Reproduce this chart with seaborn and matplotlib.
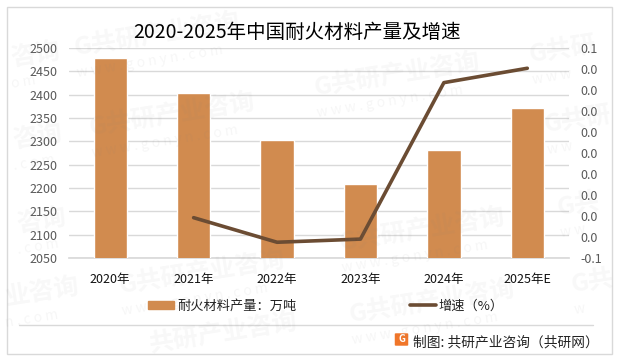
import matplotlib
matplotlib.use("Agg")
import matplotlib.pyplot as plt
from matplotlib.lines import Line2D
from matplotlib.patches import FancyBboxPatch, Patch, Rectangle
import numpy as np
import pandas as pd
import seaborn as sns

years = ["2020年", "2021年", "2022年", "2023年", "2024年", "2025年E"]
output = [2478, 2403, 2302, 2208, 2281, 2372]
growth = [np.nan, -0.0616, -0.085, -0.082, 0.067, 0.0807]
left_ticks = list(range(2050, 2501, 50))
right_ticks = [-0.1, -0.08, -0.06, -0.04, -0.02, 0.0, 0.02, 0.04, 0.06, 0.08, 0.1]
right_labels = ["-0.1", "0.0", "0.0", "0.0", "0.0", "0.0", "0.0", "0.0", "0.0", "0.0", "0.1"]

bar_color = "#d18b4f"
line_color = "#6b4c33"
W, H = 617, 361

sns.set_theme(style="white")
plt.rcParams["font.family"] = ["Noto Sans CJK SC", "DejaVu Sans"]
plt.rcParams["axes.unicode_minus"] = False

df = pd.DataFrame({"year": years, "output": output, "growth": growth})

fig = plt.figure(figsize=(W / 100, H / 100), dpi=100, facecolor="white")
ax = fig.add_axes([68.5 / W, 1 - 258 / H, (569 - 68.5) / W, 210 / H])
ax.patch.set_alpha(0)

sns.barplot(data=df, x="year", y="output", color=bar_color, width=0.4, saturation=1, ax=ax, zorder=3)
ax.set_ylim(2050, 2500)
ax.set_xlim(-0.5, 5.5)
ax.set_yticks(left_ticks)
ax.grid(axis="y", color="#d9d9d9", lw=1)
ax.set_axisbelow(True)
ax.set_xlabel("")
ax.set_ylabel("")
ax.tick_params(axis="y", length=0, pad=8, labelsize=9, labelcolor="#595959")
ax.tick_params(axis="x", length=0, pad=11, labelsize=9, labelcolor="#111111")
sns.despine(ax=ax, left=True, top=True, right=True)
ax.spines["bottom"].set_color("#d9d9d9")

ax2 = ax.twinx()
sns.lineplot(data=df.dropna(), x="year", y="growth", color=line_color, lw=2.6, ax=ax2, sort=False, errorbar=None)
ax2.set_ylim(-0.1, 0.1)
ax2.set_yticks(right_ticks)
ax2.set_yticklabels(right_labels)
ax2.set_ylabel("")
ax2.tick_params(axis="y", length=0, pad=8, labelsize=9, labelcolor="#595959")
sns.despine(ax=ax2, left=True, top=True, right=True, bottom=True)

# titles and footer
fig.text(297 / W, 1 - 32 / H, "2020-2025年中国耐火材料产量及增速", fontsize=14, color="black", ha="center", va="center")
fig.text(413 / W, 1 - 342 / H, "制图: 共研产业咨询\uff08共研网\uff09", fontsize=9.9, color="#222222", ha="left", va="center")

handles = [Patch(color=bar_color), Line2D([0], [0], color=line_color, lw=2.6)]
fig.legend(handles, ["耐火材料产量\uff1a万吨", "增速\uff08%\uff09"], ncol=2, loc="center",
           bbox_to_anchor=(326 / W, 1 - 306 / H), frameon=False, fontsize=9.5, labelcolor="#222222",
           handlelength=1.95, handleheight=0.55, handletextpad=0.25, columnspacing=8.6, borderpad=0)

# frame, footer rule, logo
fig.add_artist(Rectangle((6.5 / W, 1 - 354 / H), 605 / W, 347 / H, transform=fig.transFigure, fill=False, ec="#d9d9d9", lw=1))
fig.add_artist(Line2D([19 / W, 593 / W], [1 - 324.5 / H] * 2, color="#d9d9d9", lw=1))
fig.add_artist(FancyBboxPatch((396 / W, 1 - 345 / H), 11 / W, 11 / H, boxstyle="round,pad=0.002", transform=fig.transFigure, fc="#f0762a", ec="none"))
fig.text(401.5 / W, 1 - 339.5 / H, "G", fontsize=7, color="white", weight="bold", ha="center", va="center")

# watermark, only the part of each stamp that stays on the canvas
stamps = [("G共研产业咨询", 75, 55), ("G共研产业咨询", 90, 135), ("G共研产业咨询", 315, 95),
          ("G共研产业咨询", 120, 293), ("G共研产业咨询", 340, 250), ("G共研产业咨询", 350, 322),
          ("G共研", 530, 62), ("G共研", 545, 132), ("G共", 558, 215), ("G共", 572, 292),
          ("咨询", 12, 66), ("咨询", 14, 148), ("咨询", 18, 232), ("业咨询", 6, 305), ("共研产业咨询", 150, 352)]
www = [("w w w . g o n y n . c o m", 78, 77), ("w w w . g o n y n . c o m", 93, 157),
       ("w w w . g o n y n . c o m", 318, 117), ("w w w . g o n y n . c o m", 123, 315),
       ("w w w . g o n y n . c o m", 343, 272), ("w w w . g o n y n . c o m", 353, 344),
       ("w w w", 533, 84), ("w w", 548, 154), ("w w", 561, 237), ("w", 575, 314),
       ("o m", 12, 88), (". c o m", 14, 170), (". c o m", 18, 254), ("n . c o m", 6, 327)]
for text, wx, wy in stamps:
    fig.text(wx / W, 1 - wy / H, text, fontsize=18, weight="bold", color="#808080", alpha=0.06,
             rotation=9, rotation_mode="anchor", ha="left", va="baseline", zorder=5)
for text, wx, wy in www:
    fig.text(wx / W, 1 - wy / H, text, fontsize=10, color="#808080", alpha=0.07,
             rotation=9, rotation_mode="anchor", ha="left", va="baseline", zorder=5)

fig.savefig("out.png", dpi=100)
